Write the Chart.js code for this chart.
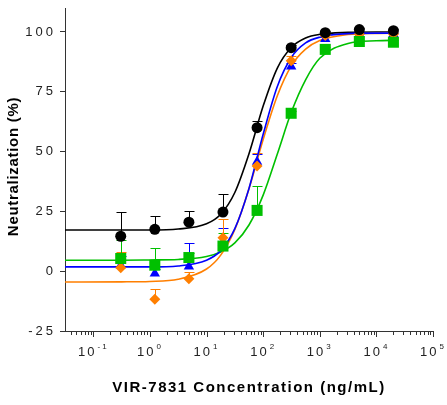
<!DOCTYPE html>
<html>
<head>
<meta charset="utf-8">
<script src="https://cdn.jsdelivr.net/npm/chart.js@4/dist/chart.umd.min.js"></script>
<style>
  html, body { margin: 0; padding: 0; background: #fff; }
</style>
</head>
<body>
<canvas id="chart" width="447" height="405"></canvas>
<script>
// dilution series (ng/mL)
const conc = [0.305, 1.22, 4.88, 19.5, 78.1, 312.5, 1250, 5000, 20000];

// measured means and upper SD
const blackVals = [14.6, 17.5, 20.5, 24.7, 60.0, 93.4, 99.7, 101.0, 100.5];
const blackErr = [10.3, 5.5, 4.5, 7.5, 2.8, 1.0, 0.8, 0.6, 0.6];
const blueVals = [2.5, -1.0, 2.0, 12.0, 45.7, 85.5, 97.0, 99.0, 99.0];
const blueErr = [4.0, 2.0, 9.8, 6.0, 3.3, 1.5, 1.0, 0.5, 0.5];
const orangeVals = [1.4, -11.7, -3.2, 14.0, 44.0, 88.0, 98.5, 99.0, 99.0];
const orangeErr = [6.6, 4.2, 3.0, 8.0, 5.4, 1.8, 0.5, 0.5, 0.5];
const greenVals = [5.3, 2.5, 5.7, 10.5, 25.4, 66.0, 92.7, 96.0, 95.7];
const greenErr = [7.7, 7.2, 2.0, 5.5, 10.3, 1.0, 1.0, 0.8, 0.8];

// fitted curves
const curveConc = [0.0316, 0.316, 1, 3.16, 10, 17.8, 31.6, 56.2, 100, 178, 316, 562, 1000, 3162, 10000, 24000];
const blackFit = [17.2, 17.2, 17.2, 17.6, 19.8, 23.8, 32.9, 49.1, 69.0, 84.9, 93.6, 97.5, 99.0, 99.8, 100, 100];
const blueFit = [1.8, 1.8, 1.8, 2.2, 4.6, 8.6, 17.8, 34.6, 57.2, 77.2, 89.4, 95.4, 97.8, 99.3, 99.5, 99.5];
const orangeFit = [-4.5, -4.45, -4.3, -3.4, 0.9, 6.7, 17.5, 34.5, 55.0, 73.3, 85.9, 92.8, 96.4, 98.9, 99.4, 99.5];
const greenFit = [4.6, 4.6, 4.7, 4.9, 6.1, 8.0, 11.8, 19.3, 31.8, 49.0, 66.6, 80.0, 89.0, 95.2, 96.3, 96.5];

// axes
const yTicks = [-25, 0, 25, 50, 75, 100];
const xTickExps = [-1, 0, 1, 2, 3, 4, 5];
const xTitle = 'VIR-7831 Concentration (ng/mL)';
const yTitle = 'Neutralization (%)';

const FONT = 'Arial, "Liberation Sans", sans-serif';
const AXIS = '#333';
const BLACK = '#000000', BLUE = '#0000ff', ORANGE = '#ff7f00', GREEN = '#00c000';

const xy = (xs, ys) => xs.map((x, i) => ({x: x, y: ys[i]}));

function pointSet(ys, color, style, radius, order) {
    return {
        data: xy(conc, ys), showLine: false, order: order,
        pointStyle: style, pointRadius: radius,
        backgroundColor: color, borderColor: color, borderWidth: 0
    };
}

function curveSet(ys, color) {
    return {
        data: xy(curveConc, ys), showLine: true, order: 10,
        pointRadius: 0, borderColor: color, borderWidth: 1.6,
        cubicInterpolationMode: 'monotone', fill: false
    };
}

const errSeries = [
    {values: blueVals, err: blueErr, color: BLUE},
    {values: orangeVals, err: orangeErr, color: ORANGE},
    {values: greenVals, err: greenErr, color: GREEN},
    {values: blackVals, err: blackErr, color: BLACK}
];

// upward-only error bars with caps
const errorBars = {
    id: 'errorBars',
    beforeDatasetsDraw(chart) {
        const {ctx, scales: {x, y}} = chart;
        ctx.save();
        ctx.lineWidth = 1;
        errSeries.forEach(s => {
            ctx.strokeStyle = s.color;
            conc.forEach((c, i) => {
                const px = Math.round(x.getPixelForValue(c)) + 0.5;
                const y0 = y.getPixelForValue(s.values[i]);
                const y1 = Math.round(y.getPixelForValue(s.values[i] + s.err[i])) + 0.5;
                ctx.beginPath();
                ctx.moveTo(px, y0);
                ctx.lineTo(px, y1);
                ctx.moveTo(px - 5, y1);
                ctx.lineTo(px + 5, y1);
                ctx.stroke();
            });
        });
        ctx.restore();
    }
};

// spaced-out lettering like the original
const spacing = {
    id: 'spacing',
    beforeDraw(chart) { chart.ctx.letterSpacing = '3px'; },
    afterDraw(chart) { chart.ctx.letterSpacing = '0px'; }
};

// log tick marks, 10^n labels and axis titles
const axisText = {
    id: 'axisText',
    afterDraw(chart) {
        const {ctx, scales: {x}, chartArea: area} = chart;
        ctx.save();
        ctx.strokeStyle = AXIS;
        ctx.lineWidth = 1;
        x.ticks.forEach(t => {
            const m = t.value / Math.pow(10, Math.floor(Math.log10(t.value) + 1e-9));
            const len = Math.abs(m - 1) < 1e-6 ? 6 : 4;
            const px = Math.round(x.getPixelForValue(t.value)) + 0.5;
            ctx.beginPath();
            ctx.moveTo(px, area.bottom);
            ctx.lineTo(px, area.bottom + len);
            ctx.stroke();
        });

        ctx.fillStyle = '#222';
        ctx.textAlign = 'left';
        ctx.textBaseline = 'alphabetic';
        xTickExps.forEach(e => {
            const px = x.getPixelForValue(Math.pow(10, e));
            const sup = String(e);
            ctx.letterSpacing = '2px';
            ctx.font = '13px ' + FONT;
            const wb = ctx.measureText('10').width;
            ctx.font = '8px ' + FONT;
            const we = ctx.measureText(sup).width;
            const x0 = px - (wb + 1 + we) / 2;
            ctx.font = '13px ' + FONT;
            ctx.fillText('10', x0, area.bottom + 25);
            ctx.font = '8px ' + FONT;
            ctx.fillText(sup, x0 + wb + 1, area.bottom + 18);
        });

        ctx.fillStyle = '#000';
        ctx.textAlign = 'center';
        ctx.textBaseline = 'middle';
        ctx.font = 'bold 15px ' + FONT;
        ctx.letterSpacing = '1.5px';
        ctx.fillText(xTitle, (area.left + area.right) / 2, area.bottom + 57);

        ctx.translate(14, (area.top + area.bottom) / 2 - 3);
        ctx.rotate(-Math.PI / 2);
        ctx.letterSpacing = '0.7px';
        ctx.fillText(yTitle, 0, 0);
        ctx.restore();
    }
};

new Chart(document.getElementById('chart'), {
    type: 'scatter',
    data: {
        datasets: [
            curveSet(blueFit, BLUE),
            curveSet(orangeFit, ORANGE),
            curveSet(greenFit, GREEN),
            curveSet(blackFit, BLACK),
            pointSet(blueVals, BLUE, 'triangle', 6, 4),
            pointSet(orangeVals, ORANGE, 'rectRot', 5.5, 3),
            pointSet(greenVals, GREEN, 'rect', 7.8, 2),
            pointSet(blackVals, BLACK, 'circle', 5.5, 1)
        ]
    },
    options: {
        responsive: false,
        animation: false,
        devicePixelRatio: 1,
        layout: {
            padding: {left: 0, right: 14, top: 8, bottom: 0}
        },
        plugins: {
            legend: {display: false},
            tooltip: {enabled: false}
        },
        scales: {
            x: {
                type: 'logarithmic',
                min: Math.pow(10, -1.5),
                max: 1e5,
                afterBuildTicks: s => {
                    const ticks = [];
                    for (let e = -2; e <= 4; e++) {
                        for (let k = 1; k <= 9; k++) {
                            const v = k * Math.pow(10, e);
                            if (v > 0.035 && v < 1e5) ticks.push({value: v});
                        }
                    }
                    ticks.push({value: 1e5});
                    s.ticks = ticks;
                },
                afterFit: s => { s.height = 74; s.paddingLeft = 0; s.paddingRight = 0; },
                grid: {display: false},
                border: {display: true, color: AXIS, width: 1},
                ticks: {display: false}
            },
            y: {
                min: -25,
                max: 110,
                afterBuildTicks: s => { s.ticks = yTicks.map(v => ({value: v})); },
                afterFit: s => { s.width = 65; s.paddingTop = 0; s.paddingBottom = 0; },
                grid: {drawOnChartArea: false, drawTicks: true, tickLength: 5, color: AXIS},
                border: {display: true, color: AXIS, width: 1},
                ticks: {
                    color: '#222',
                    padding: 4,
                    font: {family: FONT, size: 13},
                    callback: v => String(v)
                }
            }
        }
    },
    plugins: [errorBars, spacing, axisText]
});
</script>
</body>
</html>
